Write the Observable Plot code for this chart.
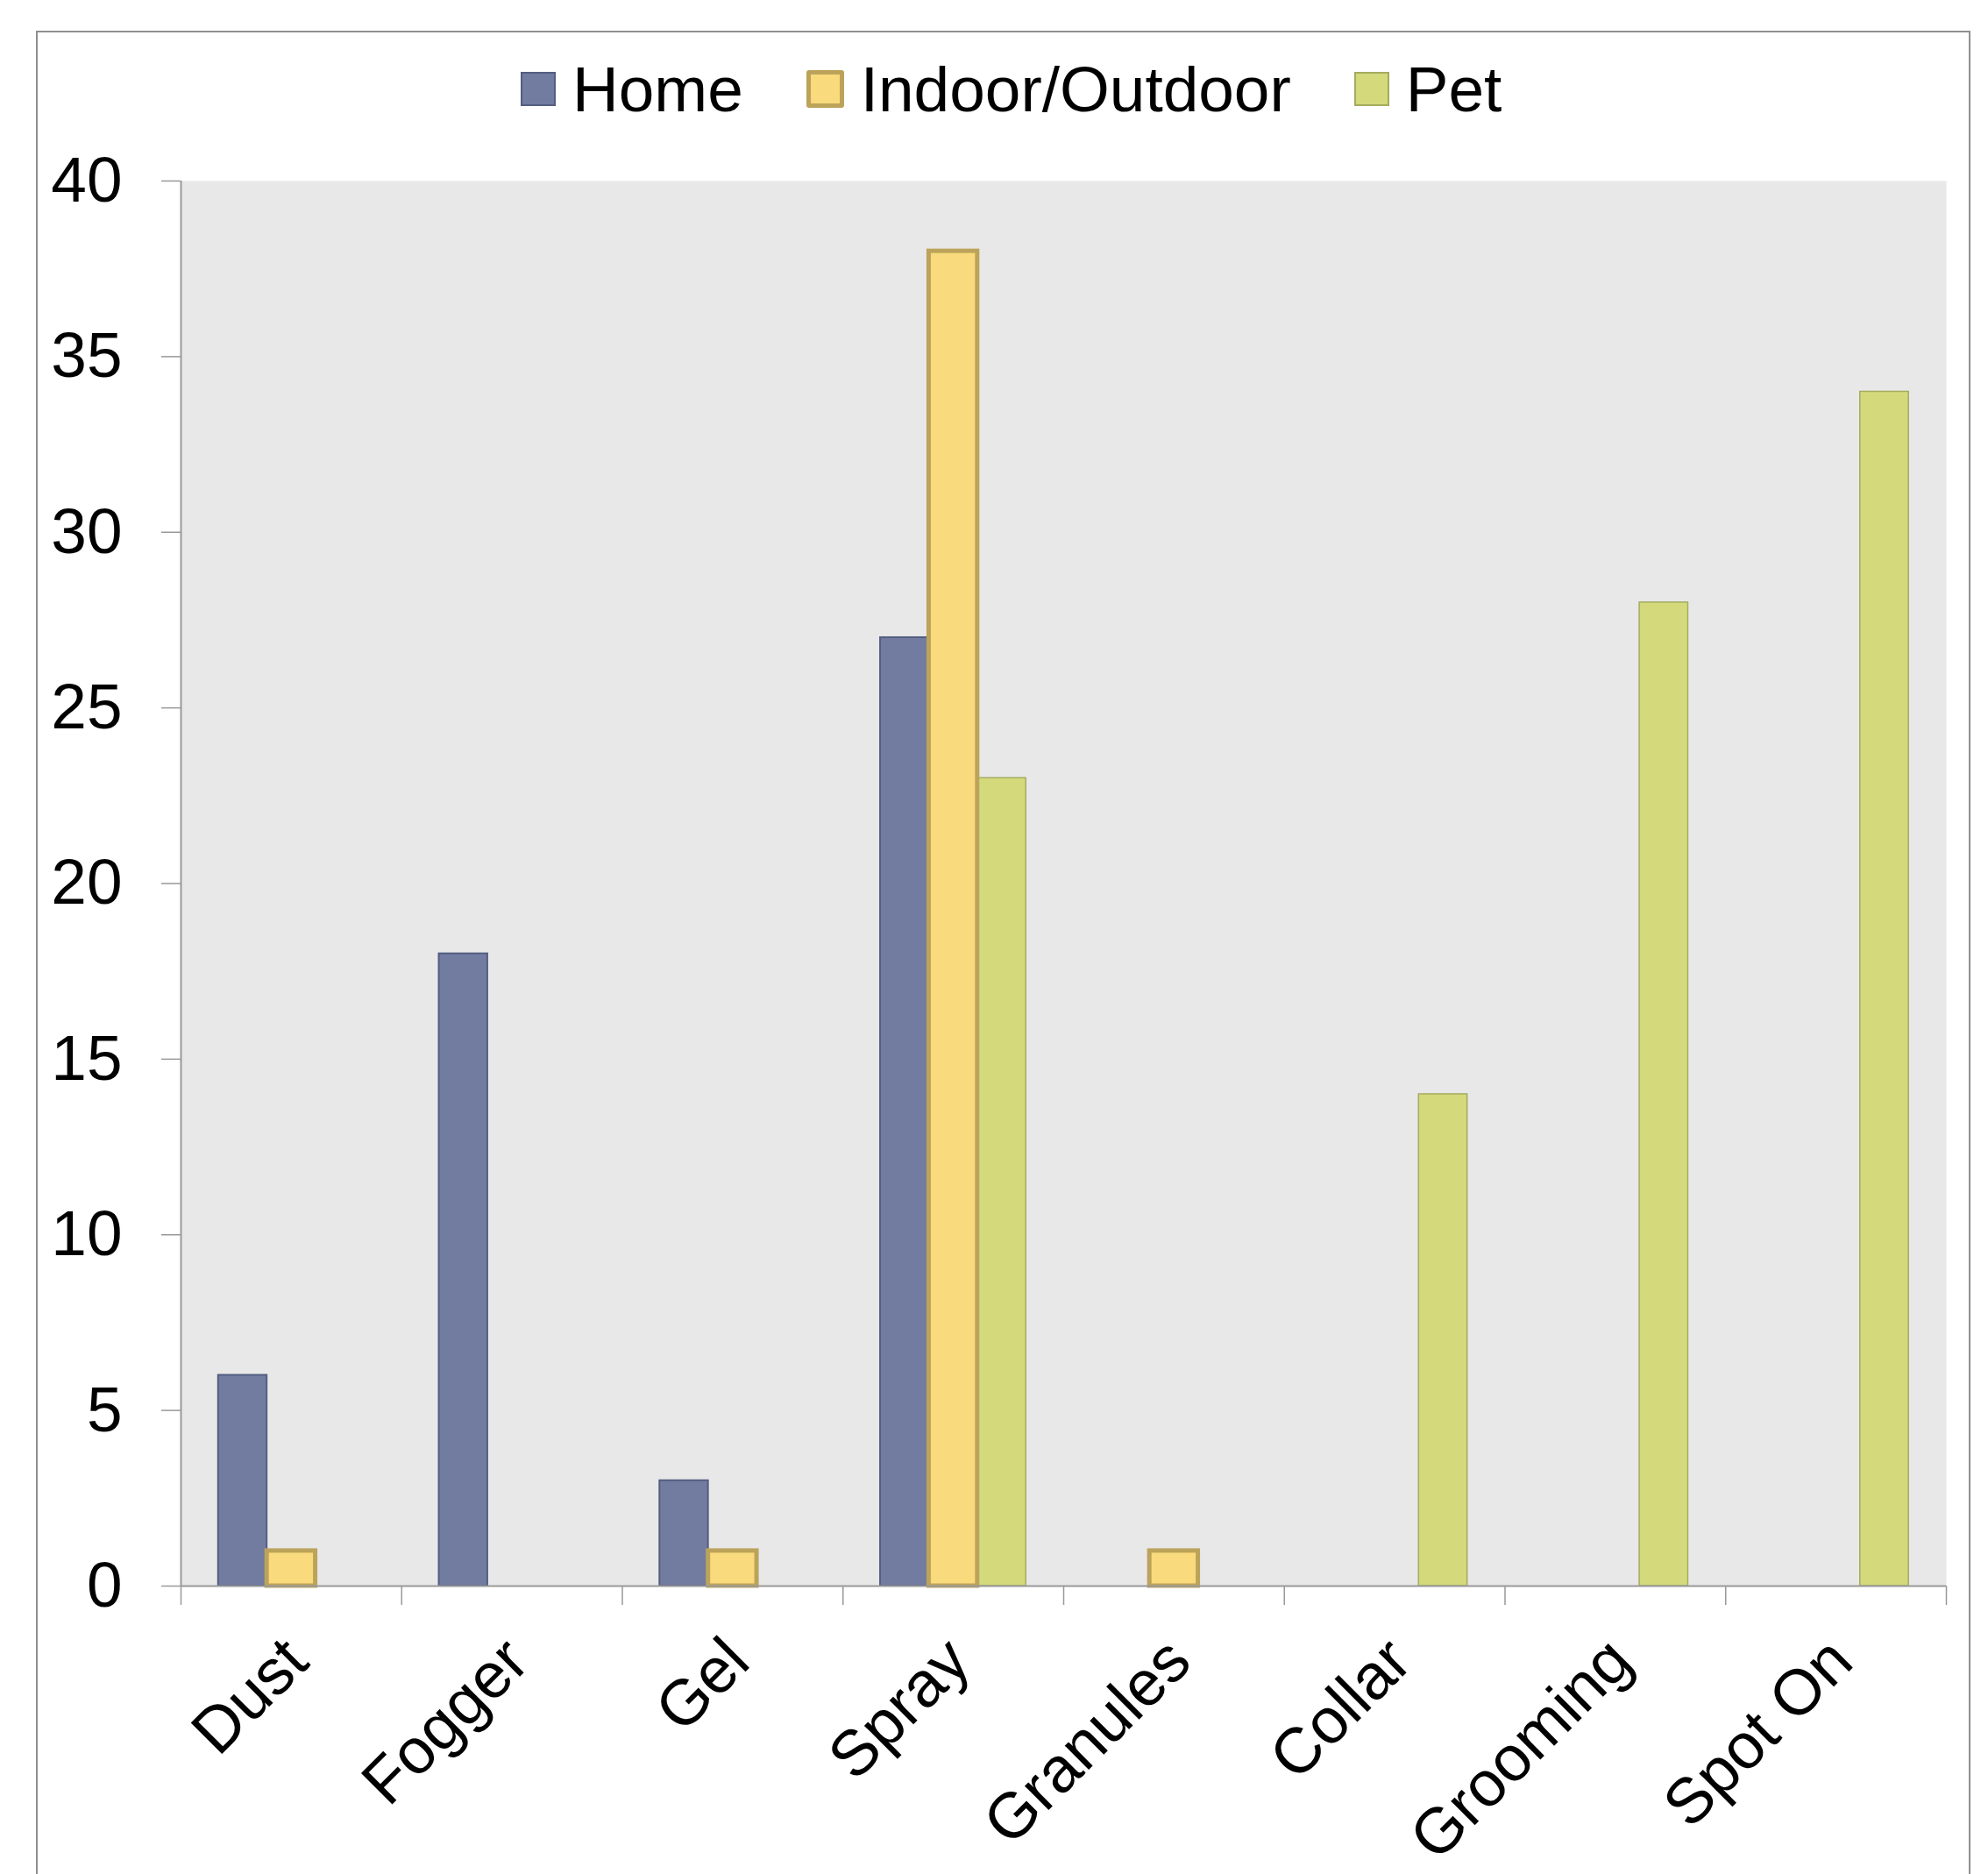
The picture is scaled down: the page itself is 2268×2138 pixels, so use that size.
<!DOCTYPE html>
<html>
<head>
<meta charset="utf-8">
<script src="https://cdn.jsdelivr.net/npm/d3@7"></script>
<script src="https://cdn.jsdelivr.net/npm/@observablehq/plot@0.6"></script>
<style>
  html, body { margin: 0; padding: 0; background: #fff; overflow: hidden; }
  body { font-family: "Liberation Sans", Arial, sans-serif; }
  #wrap { position: relative; width: 2268px; height: 2138px; }
  #border { position: absolute; left: 41px; top: 35px; width: 2207px; height: 2250px;
            border: 2px solid #8f8f8f; box-sizing: border-box; pointer-events: none; }
  #legend { position: absolute; left: 594px; top: 65px; display: flex; align-items: center;
            font-size: 73px; line-height: 73px; color: #000; white-space: nowrap; }
  .item { display: flex; align-items: center; margin-right: 72px; }
  .sw { box-sizing: border-box; margin-right: 19px; }
</style>
</head>
<body>
<div id="wrap">
  <div id="chart"></div>
  <div id="legend"></div>
  <div id="border"></div>
</div>
<script>
// ---- data ----
const categories = ["Dust", "Fogger", "Gel", "Spray", "Granules", "Collar", "Grooming", "Spot On"];
const seriesNames = ["Home", "Indoor/Outdoor", "Pet"];
const homeValues = [6, 18, 3, 27, 0, 0, 0, 0];
const indoorValues = [1, 0, 1, 38, 1, 0, 0, 0];
const petValues = [0, 0, 0, 23, 0, 14, 28, 34];
const yTicks = [0, 5, 10, 15, 20, 25, 30, 35, 40];

// ---- styles ----
const fills = ["#727ca0", "#f9da7c", "#d4da7c"];
const strokes = ["#545e82", "#bca35a", "#a5ab5e"];
const strokeWidths = [2, 5, 1.5];
const swatchSizes = [[40, 39, 2], [43, 43, 5], [40, 39, 2]];

const seriesValues = [homeValues, indoorValues, petValues];
const bandPad = 0.17;           // outer padding within each category band
const barW = (1 - 2 * bandPad) / seriesNames.length;

function seriesBars(s) {
  const rows = seriesValues[s]
    .map((v, i) => ({category: categories[i], i, value: v}))
    .filter(d => d.value > 0);
  return Plot.rect(rows, {
    x1: d => d.i + bandPad + s * barW,
    x2: d => d.i + bandPad + (s + 1) * barW,
    y1: () => 0,
    y2: "value",
    fill: fills[s],
    stroke: strokes[s],
    strokeWidth: strokeWidths[s]
  });
}

const axisGray = "#999999";

const chart = Plot.plot({
  width: 2268,
  height: 2138,
  marginLeft: 206,
  marginRight: 48,
  marginTop: 206,
  marginBottom: 329,
  style: {fontFamily: "'Liberation Sans', Arial, sans-serif", background: "transparent", overflow: "visible"},
  x: {domain: [0, categories.length]},
  y: {domain: [0, 40]},
  marks: [
    Plot.frame({fill: "#e8e8e8", stroke: "none"}),
    Plot.axisY({ticks: yTicks, tickSize: 22, tickPadding: 45, fontSize: 73, stroke: axisGray, strokeWidth: 1.5, tickFormat: d => String(d), label: null}),
    Plot.axisX({ticks: d3.range(0, categories.length + 1), tickSize: 22, stroke: axisGray, strokeWidth: 1.5, tickFormat: () => "", label: null}),
    Plot.ruleX([0], {stroke: axisGray, strokeWidth: 2}),
    seriesBars(0),
    seriesBars(2),
    seriesBars(1),
    Plot.ruleY([0], {stroke: axisGray, strokeWidth: 2}),
    Plot.text(categories, {
      x: (d, i) => i + 0.5,
      frameAnchor: "bottom",
      text: d => d,
      rotate: -45,
      textAnchor: "end",
      lineAnchor: "top",
      dx: -14,
      dy: 53,
      fontSize: 73,
      fill: "#000"
    })
  ]
});
document.getElementById("chart").appendChild(chart);

// ---- legend ----
const legend = document.getElementById("legend");
seriesNames.forEach((name, s) => {
  const item = document.createElement("div");
  item.className = "item";
  const sw = document.createElement("div");
  sw.className = "sw";
  const [w, h, bw] = swatchSizes[s];
  sw.style.width = w + "px";
  sw.style.height = h + "px";
  sw.style.background = fills[s];
  sw.style.border = bw + "px solid " + strokes[s];
  sw.style.borderRadius = s === 1 ? "3px" : "0";
  const label = document.createElement("span");
  label.textContent = name;
  item.appendChild(sw);
  item.appendChild(label);
  legend.appendChild(item);
});
</script>
</body>
</html>
